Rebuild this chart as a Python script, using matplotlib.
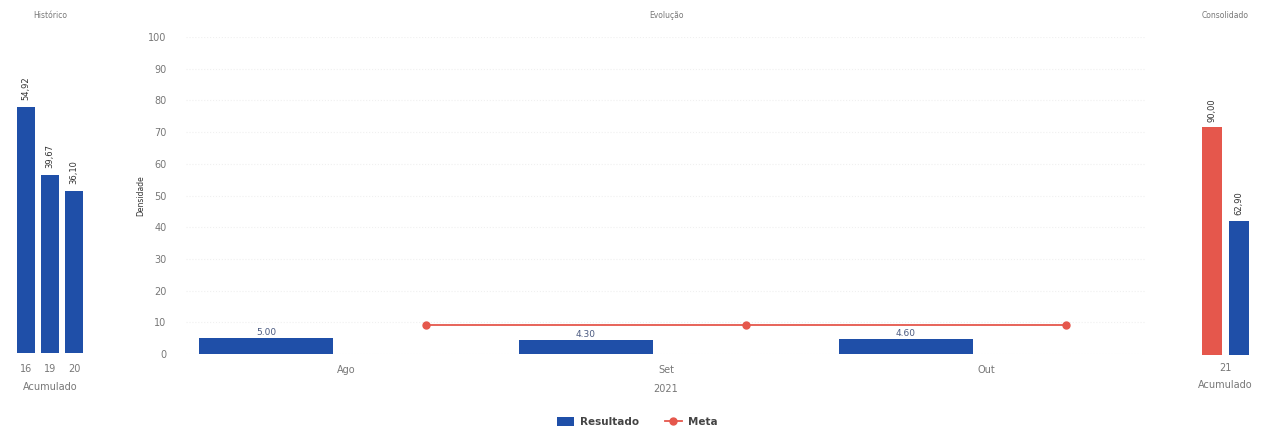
import matplotlib.pyplot as plt
import numpy as np

# data
hist_cats = ['16', '19', '20']
hist_vals = [54.92, 39.67, 36.10]
hist_labels = ['54,92', '39,67', '36,10']

months = ['Ago', 'Set', 'Out']
resultado = [5.00, 4.30, 4.60]
meta = [9.0, 9.0, 9.0]

cons_cat = ['21']
cons_meta = 90.00
cons_res = 62.90
cons_labels = ['90,00', '62,90']

BLUE = '#1f4fa8'
RED = '#e5574c'
GREY = '#777777'

W, H = 1262, 430
fig = plt.figure(figsize=(W / 100, H / 100), dpi=100)
plt.rcParams['font.family'] = ['DejaVu Sans']


def box(x0, x1, ytop, ybot):
    return [x0 / W, 1 - ybot / H, (x1 - x0) / W, (ybot - ytop) / H]


def clean(ax):
    for s in ax.spines.values():
        s.set_visible(False)
    ax.tick_params(length=0, colors=GREY, labelsize=7)


# --- Histórico ---
ax1 = fig.add_axes(box(14, 86, 37, 353))
clean(ax1)
x = np.arange(len(hist_cats))
ax1.bar(x, hist_vals, width=0.75, color=BLUE)
for xi, v, lab in zip(x, hist_vals, hist_labels):
    ax1.text(xi, v + 1.5, lab, rotation=90, ha='center', va='bottom', fontsize=6, color='#333333')
ax1.set_xlim(-0.5, 2.5)
ax1.set_ylim(0, 70.5)
ax1.set_yticks([])
ax1.set_xticks(x)
ax1.set_xticklabels(hist_cats)
ax1.tick_params(axis='x', pad=8)
ax1.set_xlabel('Acumulado', fontsize=7, color=GREY, labelpad=6)
ax1.set_title('Histórico', fontsize=5.5, color=GREY, pad=14)

# --- Evolução ---
ax = fig.add_axes(box(186, 1146, 37, 354))
clean(ax)
x = np.arange(len(months))
ax.bar(x - 0.25, resultado, width=0.42, color=BLUE, label='Resultado', zorder=3)
ax.plot(x + 0.25, meta, color=RED, marker='o', markersize=5, linewidth=1.3, label='Meta', zorder=4)
for xi, v in zip(x, resultado):
    ax.text(xi - 0.25, v + 0.3, f'{v:.2f}', ha='center', va='bottom', fontsize=6.5, color='#4b5a80')
ax.set_xlim(-0.5, 2.5)
ax.set_ylim(0, 100)
ax.set_yticks(range(0, 101, 10))
ax.set_xticks(x)
ax.set_xticklabels(months)
ax.tick_params(axis='y', pad=14)
ax.tick_params(axis='x', pad=8)
ax.yaxis.grid(True, color='#f0f0f0', linestyle=':', linewidth=0.8, zorder=0)
ax.set_ylabel('Densidade', fontsize=5.5, color='#333333', labelpad=2)
ax.set_title('Evolução', fontsize=5.5, color=GREY, pad=14)
ax.text(1, -0.095, '2021', transform=ax.get_xaxis_transform(), ha='center', va='top', fontsize=7, color=GREY)
handles, labels = ax.get_legend_handles_labels()
order = [labels.index('Resultado'), labels.index('Meta')]
leg = fig.legend([handles[i] for i in order], [labels[i] for i in order],
                 loc='center', bbox_to_anchor=(0.505, 1 - 422 / H), ncol=2, frameon=False,
                 fontsize=7.5, handlelength=1.6, handleheight=1.0, columnspacing=2.5, handletextpad=0.6)
for t in leg.get_texts():
    t.set_fontweight('bold')
    t.set_color('#444444')

# --- Consolidado ---
ax3 = fig.add_axes(box(1198, 1253, 37, 355))
clean(ax3)
ax3.bar([-0.25], [cons_meta], width=0.36, color=RED)
ax3.bar([0.25], [cons_res], width=0.36, color=BLUE)
for xi, v, lab in zip([-0.25, 0.25], [cons_meta, cons_res], cons_labels):
    ax3.text(xi, v + 1.5, lab, rotation=90, ha='center', va='bottom', fontsize=6, color='#333333')
ax3.set_xlim(-0.5, 0.5)
ax3.set_ylim(24, 116)
ax3.set_yticks([])
ax3.set_xticks([0])
ax3.set_xticklabels(cons_cat)
ax3.tick_params(axis='x', pad=6)
ax3.set_xlabel('Acumulado', fontsize=7, color=GREY, labelpad=5)
ax3.set_title('Consolidado', fontsize=5.5, color=GREY, pad=14)

fig.savefig('out.png', dpi=100)
